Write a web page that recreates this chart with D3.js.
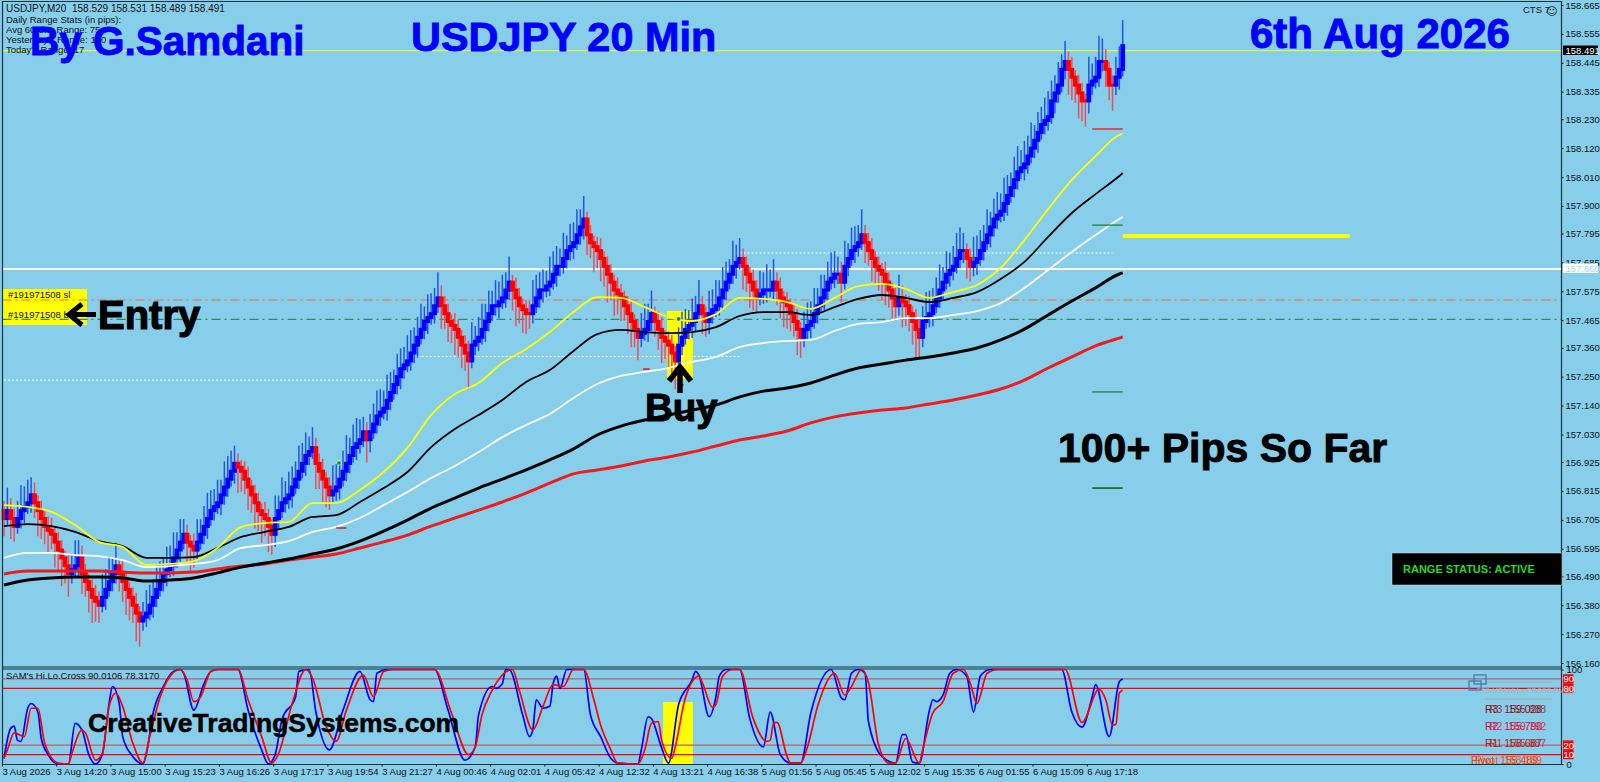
<!DOCTYPE html>
<html>
<head>
<meta charset="utf-8">
<script src="https://cdn.jsdelivr.net/npm/d3@7"></script>
<style>
  html, body { margin: 0; padding: 0; background: #87ceeb; overflow: hidden; }
  svg { display: block; }
  text { font-family: "Liberation Sans", Arial, sans-serif; }
  .small, .tick text { font-family: "Liberation Sans Narrow", "Liberation Sans", sans-serif; }
</style>
</head>
<body>
<div id="chart"></div>
<script>
'use strict';

// Price closes, one per bar (open is the previous close)
const closes = [
  156.71,156.74,156.71,156.68,156.71,156.74,156.755,
  156.77,156.80,156.77,156.74,156.71,156.68,156.665,
  156.65,156.62,156.59,156.56,156.53,156.50,156.515,
  156.53,156.56,156.50,156.47,156.44,156.41,156.395,
  156.38,156.41,156.44,156.47,156.50,156.53,156.50,
  156.47,156.44,156.41,156.38,156.35,156.32,156.335,
  156.35,156.38,156.41,156.44,156.47,156.50,156.515,
  156.53,156.56,156.59,156.62,156.65,156.62,156.605,
  156.59,156.62,156.65,156.68,156.71,156.74,156.755,
  156.77,156.80,156.83,156.86,156.89,156.92,156.905,
  156.89,156.86,156.83,156.80,156.77,156.74,156.725,
  156.71,156.68,156.65,156.71,156.74,156.77,156.785,
  156.80,156.83,156.86,156.89,156.92,156.95,156.965,
  156.98,156.92,156.89,156.86,156.83,156.80,156.815,
  156.83,156.86,156.89,156.92,156.95,156.98,156.995,
  157.01,157.04,157.01,157.04,157.07,157.10,157.115,
  157.13,157.16,157.19,157.22,157.25,157.28,157.295,
  157.31,157.34,157.37,157.40,157.43,157.46,157.475,
  157.49,157.52,157.55,157.52,157.49,157.46,157.445,
  157.43,157.40,157.37,157.34,157.31,157.37,157.385,
  157.40,157.43,157.46,157.49,157.52,157.52,157.535,
  157.55,157.58,157.61,157.58,157.55,157.52,157.505,
  157.49,157.49,157.52,157.55,157.58,157.58,157.595,
  157.61,157.64,157.67,157.67,157.70,157.73,157.745,
  157.76,157.79,157.82,157.85,157.79,157.76,157.745,
  157.73,157.70,157.67,157.64,157.61,157.58,157.565,
  157.55,157.52,157.49,157.46,157.43,157.40,157.415,
  157.43,157.46,157.49,157.46,157.43,157.40,157.385,
  157.37,157.34,157.31,157.37,157.40,157.43,157.445,
  157.46,157.49,157.52,157.49,157.46,157.49,157.505,
  157.52,157.55,157.58,157.61,157.64,157.67,157.685,
  157.70,157.67,157.64,157.61,157.58,157.55,157.565,
  157.58,157.58,157.58,157.61,157.58,157.55,157.535,
  157.52,157.49,157.46,157.43,157.40,157.43,157.445,
  157.46,157.49,157.52,157.55,157.58,157.61,157.625,
  157.64,157.64,157.61,157.67,157.70,157.73,157.745,
  157.76,157.79,157.76,157.73,157.70,157.67,157.655,
  157.64,157.61,157.58,157.55,157.52,157.55,157.535,
  157.52,157.49,157.46,157.43,157.40,157.46,157.475,
  157.49,157.52,157.55,157.58,157.61,157.64,157.655,
  157.67,157.70,157.73,157.73,157.70,157.67,157.685,
  157.70,157.73,157.76,157.79,157.82,157.85,157.865,
  157.88,157.91,157.94,157.97,158.00,158.03,158.045,
  158.06,158.09,158.12,158.15,158.18,158.21,158.225,
  158.24,158.30,158.33,158.36,158.42,158.45,158.42,
  158.39,158.36,158.33,158.30,158.30,158.36,158.375,
  158.39,158.45,158.45,158.42,158.36,158.36,158.39,
  158.42,158.51
];

// Long wick (trend side) and short wick (other side) of each bar, in pips
const wickLong = [
  6,8,7,5,6,9,7, 8,6,5,9,7,6,8, 5,9,7,10,6,8,5, 9,6,7,5,8,9,7, 6,8,7,9,5,8,6,
  7,9,8,6,10,9,5, 8,7,6,9,7,5,8, 7,9,6,8,5,7,9, 6,8,5,7,9,7,6, 8,5,9,8,7,6,9,
  7,5,8,6,9,7,10, 6,9,7,8,5,9,6, 8,7,6,9,7,8,5, 7,9,6,8,7,5,9, 8,6,7,10,6,8,9,
  7,5,8,6,7,9,8, 6,9,7,5,8,7,6, 9,8,6,7,9,5,8, 7,6,9,8,5,7,6, 9,7,8,6,10,8,5,
  7,9,6,8,5,9,7, 8,6,9,7,10,6,8, 7,5,9,8,6,7,5, 9,8,7,6,9,5,8, 7,9,6,8,7,5,9,
  6,8,7,10,6,9,7, 8,5,7,9,6,8,7, 9,6,8,5,7,9,6, 8,7,10,6,9,7,5, 8,6,9,7,5,8,7,
  9,6,8,7,5,9,6, 7,8,6,9,7,5,8, 6,9,7,8,5,7,9, 8,6,5,9,7,6,8, 7,9,6,8,5,7,9,
  8,6,7,9,5,8,7, 6,9,7,5,8,6,7, 9,8,6,7,5,8,9, 7,6,8,10,7,5,9, 8,6,7,9,5,8,6,
  7,9,8,6,7,5,9, 8,7,6,9,5,7,8, 6,9,7,5,8,9,6, 8,7,9,5,7,6,8, 9,7,6,8,5,7,9,
  8,6,9,7,9,10,6, 7,9,8,6,5,9,7, 8,9,10,7,6,9,8, 6,3
];
const wickShort = [
  3,2,4,3,2,3,4, 2,3,4,2,3,2,3, 4,2,3,3,2,4,3, 2,3,4,3,2,3,4, 3,2,4,2,3,3,2,
  4,3,2,3,4,2,3, 3,2,4,3,2,3,4, 2,3,3,4,2,3,2, 4,3,2,3,4,2,3, 2,4,3,3,2,4,3,
  2,3,4,2,3,3,2, 4,3,2,4,3,2,3, 3,4,2,3,2,4,3, 2,3,3,4,2,3,2, 3,4,2,3,3,2,4,
  3,2,3,4,2,3,3, 2,4,3,2,3,4,3, 2,3,3,4,2,3,4, 2,3,2,4,3,3,2, 4,3,2,3,4,2,3,
  3,2,4,3,2,3,4, 2,3,3,2,4,3,2, 3,4,3,2,3,4,2, 3,2,4,3,2,3,3, 4,2,3,4,2,3,2,
  3,4,2,3,3,2,4, 3,2,3,4,2,3,3, 2,4,3,2,3,4,2, 3,3,2,4,3,2,3, 4,3,2,3,2,4,3,
  2,3,4,3,2,3,4, 2,3,3,2,4,3,2, 3,4,2,3,3,4,2, 3,2,3,4,2,3,3, 4,2,3,2,4,3,2,
  3,3,4,2,3,2,4, 3,2,3,3,4,2,3, 2,4,3,2,3,3,4, 2,3,2,4,3,3,2, 3,4,2,3,3,2,4,
  3,2,3,4,2,3,3, 4,2,3,2,4,3,3, 2,3,4,2,3,3,2, 4,3,2,3,4,2,3, 3,2,4,3,2,3,3,
  4,2,3,3,2,4,3, 2,3,3,4,2,3,3, 4,2,3,3,2,4,3, 2,3
];

// Moving averages, read every 7th bar (last one is the final bar)
const maBars = d3.range(0, 330, 7).concat([330]);
const maYellow = [
  156.761,156.754,156.735,156.685,156.621,156.602,156.533,156.537,156.548,156.598,
  156.678,156.693,156.697,156.769,156.769,156.819,156.887,156.979,157.104,157.184,
  157.226,157.302,157.355,157.420,157.496,157.553,157.550,157.515,157.477,157.462,
  157.488,157.550,157.546,157.534,157.508,157.550,157.595,157.603,157.584,157.550,
  157.572,157.599,157.664,157.770,157.888,157.999,158.090,158.170,158.174
];
const maThin = [
  156.681,156.689,156.681,156.659,156.624,156.605,156.560,156.560,156.563,156.598,
  156.640,156.659,156.678,156.716,156.723,156.773,156.826,156.887,156.982,157.051,
  157.104,157.161,157.230,157.275,157.348,157.412,157.428,157.420,157.416,157.420,
  157.439,157.481,157.496,157.496,157.485,157.515,157.546,157.561,157.550,157.534,
  157.550,157.572,157.622,157.687,157.782,157.873,157.945,158.014,158.025
];
const maWhite = [
  156.560,156.579,156.579,156.571,156.567,156.552,156.525,156.529,156.537,156.552,
  156.598,156.609,156.624,156.659,156.678,156.712,156.761,156.811,156.864,156.910,
  156.963,157.020,157.066,157.108,157.169,157.222,157.253,157.268,157.283,157.306,
  157.325,157.363,157.378,157.386,157.390,157.424,157.451,157.458,157.473,157.473,
  157.485,157.500,157.530,157.588,157.656,157.725,157.789,157.850,157.858
];
const maThick = [
  156.457,156.476,156.484,156.487,156.487,156.484,156.472,156.476,156.484,156.503,
  156.525,156.541,156.556,156.575,156.594,156.624,156.662,156.704,156.750,156.788,
  156.826,156.860,156.895,156.933,156.975,157.028,157.062,157.085,157.104,157.123,
  157.142,157.173,157.195,157.207,157.226,157.256,157.283,157.298,157.313,157.325,
  157.340,157.359,157.390,157.431,157.485,157.538,157.588,157.641,157.645
];
const maRed = [
  156.499,156.510,156.510,156.510,156.510,156.506,156.503,156.503,156.506,156.518,
  156.529,156.537,156.552,156.563,156.575,156.598,156.621,156.647,156.681,156.712,
  156.742,156.773,156.807,156.845,156.880,156.895,156.910,156.929,156.944,156.963,
  156.986,157.009,157.024,157.043,157.074,157.097,157.112,157.123,157.131,157.146,
  157.161,157.180,157.203,157.237,157.283,157.325,157.367,157.397,157.401
];

// Oscillator, blue and red line, [bar, value] at the corners of each line
const oscBlue = [
  [0,6],[2,38],[3,40],[4,25],[5,24],[7,59],[8,64],[10,55],[11,27],[13,10],[16,0],[19,0],[21,43],[23,36],[25,10],
  [27,0],[29,10],[31,64],[32,82],[34,64],[35,29],[38,8],[41,0],[42,11],[44,54],[47,82],[50,98],[52,100],[53,96],
  [56,57],[59,85],[61,98],[63,100],[69,100],[72,57],[76,15],[78,0],[80,10],[82,47],[86,71],[87,98],[90,100],[92,55],
  [96,15],[100,57],[105,98],[108,68],[109,66],[110,96],[113,100],[127,100],[131,57],[136,4],[139,18],[140,52],[144,82],
  [145,80],[147,85],[148,100],[149,100],[153,52],[155,29],[156,36],[157,68],[159,59],[161,61],[162,85],[163,93],[164,80],
  [166,100],[171,100],[173,52],[176,29],[179,6],[181,1],[187,0],[188,15],[190,50],[191,48],[194,17],[196,1],[199,63],
  [203,89],[204,98],[205,94],[208,50],[210,71],[211,93],[213,100],[217,100],[220,48],[224,18],[226,55],[229,10],[232,1],
  [235,1],[238,54],[244,100],[247,70],[248,68],[250,96],[252,100],[254,96],[255,45],[259,8],[263,1],[265,31],[266,31],
  [268,2],[270,1],[273,57],[274,68],[275,66],[277,73],[279,96],[281,100],[284,93],[286,55],[288,93],[291,100],[312,100],
  [315,55],[318,39],[321,71],[322,84],[326,29],[329,87],[330,90]
];
const oscRed = [
  [0,6],[1,15],[3,33],[6,29],[8,59],[10,59],[12,22],[16,1],[19,0],[20,11],[23,36],[24,33],[27,4],[29,11],[31,61],
  [33,75],[35,61],[38,22],[41,1],[43,29],[46,70],[49,93],[52,100],[54,89],[56,66],[58,71],[61,98],[63,100],[69,100],
  [72,68],[76,29],[79,1],[81,11],[85,64],[89,100],[91,91],[95,40],[98,24],[101,57],[106,94],[109,71],[112,98],[115,100],
  [127,100],[132,54],[137,10],[139,18],[141,52],[144,78],[150,100],[152,78],[156,36],[159,61],[162,84],[165,82],[168,100],
  [171,100],[174,68],[176,41],[179,15],[181,1],[187,0],[189,15],[191,43],[193,45],[194,25],[197,6],[198,18],[201,70],
  [205,93],[206,86],[209,60],[210,63],[212,93],[215,100],[217,100],[221,48],[225,24],[226,25],[227,43],[228,44],[231,8],
  [232,1],[235,1],[237,18],[240,61],[245,96],[248,73],[250,82],[253,100],[255,86],[258,20],[261,1],[263,1],[266,27],
  [270,1],[271,15],[274,54],[277,66],[280,96],[283,100],[285,86],[287,64],[290,96],[293,100],[313,100],[318,44],[323,79],
  [325,68],[327,41],[328,42],[329,75],[330,78]
];
const oscLevels = [90, 80, 20, 10];

const priceTicks = [158.665,158.555,158.445,158.335,158.230,158.120,158.010,157.900,157.795,157.685,157.575,157.465,
                    157.360,157.250,157.140,157.030,156.925,156.815,156.705,156.595,156.490,156.380,156.270,156.160];
const timeLabels = ['3 Aug 2026','3 Aug 14:20','3 Aug 15:00','3 Aug 15:23','3 Aug 16:26','3 Aug 17:17','3 Aug 19:54',
                    '3 Aug 21:27','4 Aug 00:46','4 Aug 02:01','4 Aug 05:42','4 Aug 12:32','4 Aug 13:21','4 Aug 16:38',
                    '5 Aug 01:56','5 Aug 05:45','5 Aug 12:02','5 Aug 15:35','6 Aug 01:55','6 Aug 15:09','6 Aug 17:18'];

// Horizontal levels: [price, first bar, last bar]
const dottedLevels = [[157.237, 0, 116], [157.327, 122, 217], [157.721, 217, 327]];
const pivotMarks   = [[158.193, '#e03030'], [157.827, '#2e8b57'], [157.192, '#2e8b57'], [156.826, '#006400']];
const redDashes    = [[156.674, 98, 101], [157.279, 188.5, 190.5], [157.218, 199.5, 200.5]];
const fillMarks    = [[98.8, 156.921], [199, 157.470]];

const bidPrice = 158.491, linePrice = 157.660, slPrice = 157.542, buyPrice = 157.468, targetPrice = 157.786;


const W = 1600, H = 782,
      axisX = 1561.5, leftX = 2.5;

const svg = d3.select('#chart').append('svg')
    .attr('width', W)
    .attr('height', H);

const x  = d3.scaleLinear().domain([0, 330]).range([4, 1122.7]);
const y  = d3.scaleLinear().domain([156.16, 158.665]).range([663, 5]);
const yO = d3.scaleLinear().domain([0, 100]).range([764, 669.5]);

function text(str, px, py, size, fill, opts) {
    opts = opts || {};
    return svg.append('text')
        .attr('class', opts.cls || null)
        .attr('x', px).attr('y', py)
        .attr('font-size', size)
        .attr('font-weight', opts.bold ? 'bold' : 'normal')
        .attr('fill', fill)
        .attr('stroke', opts.stroke || 'none')
        .attr('stroke-width', opts.sw || 0)
        .text(str);
}

function hline(price, x1, x2, color, width, dash) {
    svg.append('line')
        .attr('x1', x1).attr('x2', x2)
        .attr('y1', y(price)).attr('y2', y(price))
        .attr('stroke', color)
        .attr('stroke-width', width)
        .attr('stroke-dasharray', dash || null);
}

// yellow highlight behind the buy bar
svg.append('rect')
    .attr('x', x(195.6)).attr('width', x(203.2) - x(195.6))
    .attr('y', y(157.5)).attr('height', y(157.241) - y(157.5))
    .attr('fill', '#ffff00');

// Entry box
svg.append('rect').attr('x', 3).attr('y', 289).attr('width', 84).attr('height', 36).attr('fill', '#ffff00');

// Levels
hline(slPrice, leftX, axisX, '#ff6a28', 1.2, '9 4 2 4');
hline(buyPrice, leftX, axisX, '#2e8b57', 1.2, '9 4 2 4');
dottedLevels.forEach(function(d) {
    hline(d[0], x(d[1]), x(d[2]), '#ffffff', 1, '2 2');
});
hline(bidPrice, leftX, axisX, '#ffff00', 1);
hline(linePrice, leftX, axisX, '#ffffff', 2);

// Bars
const bars = closes.map(function(c, i) {
    const open = i === 0 ? 156.74 : closes[i - 1];
    return {i: i, open: open, close: c, wl: wickLong[i] / 100, ws: wickShort[i] / 100};
});
let lastUp = false;
bars.forEach(function(b) {
    if (b.close !== b.open) lastUp = b.close > b.open;
    b.up = lastUp;
    b.high = Math.max(b.open, b.close) + (b.up ? b.wl : b.ws);
    b.low  = Math.min(b.open, b.close) - (b.up ? b.ws : b.wl);
});

svg.append('g').selectAll('line')
    .data(bars).enter().append('line')
    .attr('x1', function(d) { return x(d.i); })
    .attr('x2', function(d) { return x(d.i); })
    .attr('y1', function(d) { return y(d.high) - 2; })
    .attr('y2', function(d) { return y(d.low) + 2; })
    .attr('stroke', function(d) { return d.up ? '#1f55ee' : '#e8505c'; })
    .attr('stroke-width', 1.5);

svg.append('g').selectAll('rect')
    .data(bars).enter().append('rect')
    .attr('x', function(d) { return x(d.i) - 2.4; })
    .attr('width', 4.8)
    .attr('y', function(d) { return y(Math.max(d.open, d.close)) - 1.5; })
    .attr('height', function(d) { return Math.abs(y(d.open) - y(d.close)) + 3; })
    .attr('fill', function(d) { return d.up ? '#0000ff' : '#ff0000'; });

// Moving averages
const maLine = d3.line()
    .curve(d3.curveMonotoneX)
    .x(function(d) { return x(d[0]); })
    .y(function(d) { return y(d[1]); });

[[maRed, '#ee1c1c', 3], [maThick, '#000000', 3], [maWhite, '#ffffff', 1.8], [maThin, '#000000', 1.8], [maYellow, '#ffff00', 1.8]]
.forEach(function(s) {
    svg.append('path')
        .attr('d', maLine(maBars.map(function(b, k) { return [b, s[0][k]]; })))
        .attr('fill', 'none')
        .attr('stroke', s[1])
        .attr('stroke-width', s[2])
        .attr('stroke-linejoin', 'round');
});

// Right side marks
pivotMarks.forEach(function(d) {
    hline(d[0], x(321), x(330), d[1], 1.5);
});
hline(targetPrice, x(330), x(397), '#ffff00', 4);

redDashes.forEach(function(d) {
    hline(d[0], x(d[1]), x(d[2]), '#d02030', 1.5);
});
fillMarks.forEach(function(d) {
    svg.append('circle')
        .attr('cx', x(d[0])).attr('cy', y(d[1])).attr('r', 2.2)
        .attr('fill', '#1a8a2a').attr('stroke', '#d8ffd8').attr('stroke-width', 0.6);
});

// Price axis
const yAxis = d3.axisRight(y)
    .tickValues(priceTicks)
    .tickFormat(d3.format('.3f'))
    .tickSize(2)
    .tickPadding(2);
svg.append('g')
    .attr('transform', 'translate(' + axisX + ',0)')
    .call(yAxis)
    .call(function(g) {
        g.select('.domain').remove();
        g.selectAll('text').attr('font-size', 9.5).attr('fill', '#111');
        g.selectAll('line').attr('stroke', '#111');
    });

// Frame
svg.append('path')
    .attr('d', 'M' + leftX + ',1.5H' + axisX + 'V764.5H' + leftX + 'Z M' + leftX + ',667H' + axisX + ' M' + leftX + ',669H' + axisX)
    .attr('fill', 'none')
    .attr('stroke', '#16323f')
    .attr('stroke-width', 1.2);

// Oscillator panel
svg.append('rect')
    .attr('x', x(195.6) - 4).attr('width', x(203.2) - x(195.6) + 4)
    .attr('y', yO(65.6)).attr('height', yO(0) - yO(65.6))
    .attr('fill', '#ffff00');

oscLevels.forEach(function(v) {
    svg.append('line')
        .attr('x1', leftX).attr('x2', axisX)
        .attr('y1', yO(v)).attr('y2', yO(v))
        .attr('stroke', (v === 90 || v === 20) ? '#b8606c' : '#ff0000')
        .attr('stroke-width', 1.2);
});

const oscLine = d3.line()
    .curve(d3.curveMonotoneX)
    .x(function(d) { return x(d[0]); })
    .y(function(d) { return yO(d[1]); });

svg.append('path').attr('d', oscLine(oscBlue)).attr('fill', 'none').attr('stroke', '#0000ff').attr('stroke-width', 1.7);
svg.append('path').attr('d', oscLine(oscRed)).attr('fill', 'none').attr('stroke', '#ff0000').attr('stroke-width', 1.7);

oscLevels.forEach(function(v) {
    svg.append('rect')
        .attr('x', axisX + 1.5).attr('y', yO(v) - 4.7)
        .attr('width', 10.5).attr('height', 9.4)
        .attr('fill', '#ff0000');
    text(String(v), axisX + 2, yO(v) + 3.5, 9.5, '#ffffff', {cls: 'small'});
});

const yOAxis = d3.axisRight(yO)
    .tickValues([100, 0])
    .tickSize(2)
    .tickPadding(3);
svg.append('g')
    .attr('transform', 'translate(' + axisX + ',0)')
    .call(yOAxis)
    .call(function(g) {
        g.select('.domain').remove();
        g.selectAll('text').attr('font-size', 9.5).attr('fill', '#111');
        g.selectAll('line').attr('stroke', '#111');
    });

// Time axis
const xAxis = d3.axisBottom(x)
    .tickValues(timeLabels.map(function(d, i) { return i * 16 - 0.6; }))
    .tickFormat(function(d, i) { return timeLabels[i]; })
    .tickSize(2)
    .tickPadding(2);
svg.append('g')
    .attr('transform', 'translate(0,764.5)')
    .call(xAxis)
    .call(function(g) {
        g.select('.domain').remove();
        g.selectAll('text').attr('font-size', 9.5).attr('fill', '#111').attr('text-anchor', 'start');
        g.selectAll('line').attr('stroke', '#111');
    });

// Price label boxes
svg.append('rect').attr('x', 1563).attr('y', 45.5).attr('width', 35).attr('height', 9.5).attr('fill', '#000');
text('158.491', 1565.5, 53.5, 9.5, '#ffffff', {cls: 'small'});
svg.append('rect').attr('x', 1563).attr('y', 263.5).attr('width', 35).attr('height', 9.5).attr('fill', '#ffffff');
text('157.660', 1565.5, 271.5, 9.5, '#a8d8ee', {cls: 'small'});

// Header
text('USDJPY,M20  158.529 158.531 158.489 158.491', 6, 12, 10, '#111', {cls: 'small'}).attr('xml:space', 'preserve');
text('Daily Range Stats (in pips):', 6, 23, 9.5, '#111', {cls: 'small'});
text('Avg 60-day Range: 75', 6, 33, 9.5, '#111', {cls: 'small'});
text("Yesterday's Range: 100", 6, 43, 9.5, '#111', {cls: 'small'});
text("Today's Range: 17", 6, 53, 9.5, '#111', {cls: 'small'});
text('CTS 7', 1523, 13, 9.5, '#111', {cls: 'small'});
text('\u263A', 1546, 14.5, 11, '#223', {}).style('font-family', '"DejaVu Sans"');

// Big titles
text('By G.Samdani', 30, 55, 40.5, '#0000ff', {bold: true, stroke: '#0000ff', sw: 0.9});
text('USDJPY 20 Min', 411, 51, 41.4, '#0000ff', {bold: true, stroke: '#0000ff', sw: 0.9});
text('6th Aug 2026', 1250, 48, 42, '#0000ff', {bold: true, stroke: '#0000ff', sw: 0.9});
text('100+ Pips So Far', 1058, 462, 41, '#000000', {bold: true, stroke: '#000', sw: 0.9});
text('CreativeTradingSystems.com', 88, 732, 26.5, '#000000', {bold: true, stroke: '#000', sw: 0.5});

// Entry and Buy marks
text('#191971508 sl', 8, 298, 9.5, '#111', {cls: 'small'});
text('#191971508 buy', 8, 318, 9.5, '#111', {cls: 'small'});
text('Entry', 98, 329, 40, '#000000', {bold: true, stroke: '#000', sw: 1.2});
text('Buy', 645, 421, 38.5, '#000000', {bold: true, stroke: '#000', sw: 1});

svg.append('path')
    .attr('d', 'M96,314.5H72 M82,304L69,314.5L82,325')
    .attr('fill', 'none').attr('stroke', '#000').attr('stroke-width', 5);
svg.append('path')
    .attr('d', 'M680,393V369 M669,381L680,367L691,381')
    .attr('fill', 'none').attr('stroke', '#000').attr('stroke-width', 5.5);

// Range status
svg.append('rect').attr('x', 1392).attr('y', 553).attr('width', 170).attr('height', 32).attr('fill', '#000').attr('stroke', '#ddd').attr('stroke-width', 0.5);
text('RANGE STATUS: ACTIVE', 1403, 573, 11, '#22dd22', {bold: true});

// Pivot labels bottom right, written twice as they overlap in the terminal
const pivotLabels = [['R3', '159.028', '155.888', 1485, 713, '#8b1a1a'], ['R2', '155.790', '159.792', 1485, 730, '#dc143c'],
                     ['R1', '158.687', '155.887', 1485, 747, '#b22222'], ['Pivot', '155.489', '158.189', 1471, 764, '#ff4500']];
pivotLabels.forEach(function(d) {
    text(d[0] + '  ' + d[1], d[3], d[4], 10.5, d[5], {}).attr('xml:space', 'preserve');
    text(d[0] + '  ' + d[2], d[3] + 4, d[4], 10.5, d[5], {}).attr('xml:space', 'preserve').attr('opacity', 0.8);
});

svg.append('path').attr('d', 'M1485,682H1552 M1485,699H1552').attr('stroke', '#a0a8ac').attr('stroke-width', 1.2);
text('CTS-MT4 Hi.Lo.CROSS PANEL', 1476, 693, 7, '#b0b0b0', {cls: 'small'});
svg.append('rect').attr('x', 1474).attr('y', 675).attr('width', 12).attr('height', 9).attr('fill', 'none').attr('stroke', '#4682b4').attr('stroke-width', 1.4);
svg.append('rect').attr('x', 1469).attr('y', 681).attr('width', 12).attr('height', 9).attr('fill', 'none').attr('stroke', '#4682b4').attr('stroke-width', 1.4);

// Oscillator caption
text("SAM's Hi.Lo.Cross 90.0106 78.3170", 6, 679, 9.5, '#111', {cls: 'small'});
</script>
</body>
</html>
